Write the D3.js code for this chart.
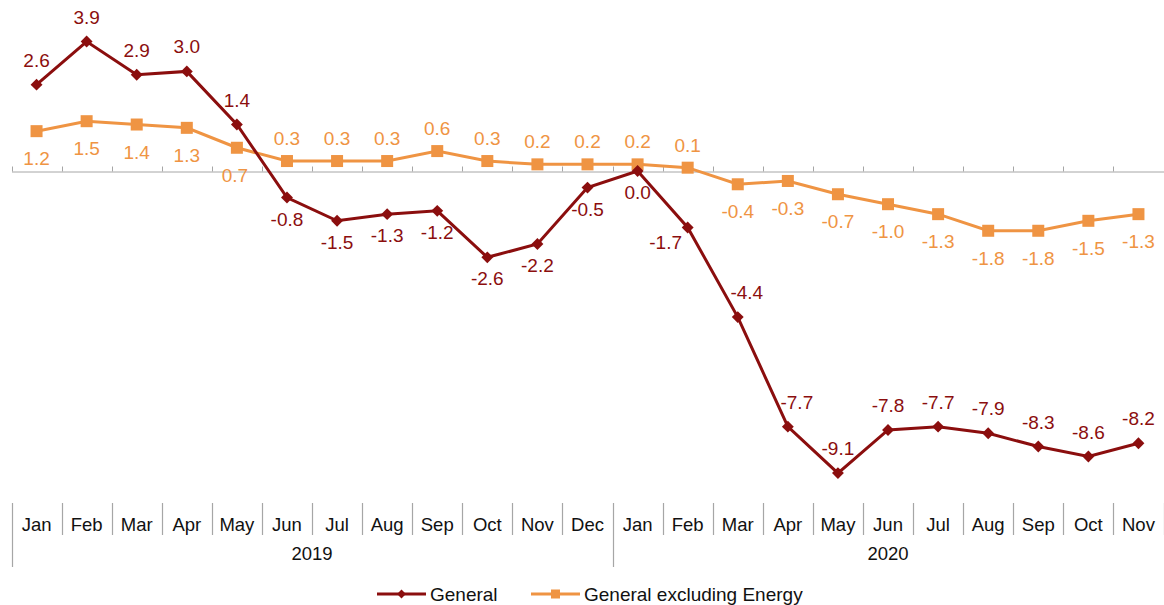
<!DOCTYPE html>
<html>
<head>
<meta charset="utf-8">
<title>General vs General excluding Energy</title>
<style>
  body { margin: 0; background: #fff; }
  text { font-family: "Liberation Sans", Arial, sans-serif; }
</style>
</head>
<body>
<svg id="chart"></svg>
<script src="https://d3js.org/d3.v7.min.js"></script>
<script>
const months = ['Jan','Feb','Mar','Apr','May','Jun','Jul','Aug','Sep','Oct','Nov','Dec',
                'Jan','Feb','Mar','Apr','May','Jun','Jul','Aug','Sep','Oct','Nov'];
const years = [{label: '2019', n: 12}, {label: '2020', n: 11}];
const general = [2.6, 3.9, 2.9, 3.0, 1.4, -0.8, -1.5, -1.3, -1.2, -2.6, -2.2, -0.5,
                 0.0, -1.7, -4.4, -7.7, -9.1, -7.8, -7.7, -7.9, -8.3, -8.6, -8.2];
const exEnergy = [1.2, 1.5, 1.4, 1.3, 0.7, 0.3, 0.3, 0.3, 0.6, 0.3, 0.2, 0.2,
                  0.2, 0.1, -0.4, -0.3, -0.7, -1.0, -1.3, -1.8, -1.8, -1.5, -1.3];

const W = 1164, H = 605;
const red = '#8b0e0e', orange = '#ef9443', grey = '#a6a6a6';

const svg = d3.select('#chart').attr('width', W).attr('height', H);

const x = d3.scaleBand().domain(d3.range(months.length)).range([11.5, 1163.5]);
const y = d3.scaleLinear().domain([-10, 5]).range([503, 5]);
const cx = i => x(i) + x.bandwidth() / 2;

// zero line with small ticks upward
const zero = svg.append('g').attr('transform', `translate(0,${Math.round(y(0)) + 0.5})`);
zero.call(d3.axisTop(x).tickValues([]).tickSizeOuter(0));
zero.select('.domain').attr('stroke', grey);
zero.selectAll('line.tk')
  .data(d3.range(months.length + 1))
  .enter().append('line')
  .attr('class', 'tk')
  .attr('x1', i => Math.round(11.5 + i * x.step()) + 0.5)
  .attr('x2', i => Math.round(11.5 + i * x.step()) + 0.5)
  .attr('y1', 0).attr('y2', -5)
  .attr('stroke', grey);

// category axis (months / years)
const axisTop = 503, monthBottom = 535, yearBottom = 567;
const ax = svg.append('g');
ax.selectAll('line.m')
  .data(d3.range(months.length + 1))
  .enter().append('line')
  .attr('x1', i => Math.round(11.5 + i * x.step()) + 0.5)
  .attr('x2', i => Math.round(11.5 + i * x.step()) + 0.5)
  .attr('y1', axisTop)
  .attr('y2', (i) => (i === 0 || i === 12) ? yearBottom : monthBottom)
  .attr('stroke', grey).attr('stroke-width', 1.2);
ax.selectAll('text.m')
  .data(months)
  .enter().append('text')
  .attr('x', (d, i) => cx(i))
  .attr('y', 531)
  .attr('text-anchor', 'middle')
  .attr('font-size', 18.5)
  .attr('fill', '#111')
  .text(d => d);
let start = 0;
years.forEach(yr => {
  const x0 = x(start), x1 = x(start + yr.n - 1) + x.bandwidth();
  ax.append('text')
    .attr('x', (x0 + x1) / 2)
    .attr('y', 560)
    .attr('text-anchor', 'middle')
    .attr('font-size', 18.5)
    .attr('fill', '#111')
    .text(yr.label);
  start += yr.n;
});

const line = d3.line().x((d, i) => cx(i)).y(d => y(d));

// orange series
svg.append('path').datum(exEnergy)
  .attr('d', line).attr('fill', 'none')
  .attr('stroke', orange).attr('stroke-width', 3);
svg.selectAll('rect.ex').data(exEnergy).enter().append('rect')
  .attr('x', (d, i) => cx(i) - 6).attr('y', d => y(d) - 6)
  .attr('width', 12).attr('height', 12).attr('fill', orange);

// red series
svg.append('path').datum(general)
  .attr('d', line).attr('fill', 'none')
  .attr('stroke', red).attr('stroke-width', 3);
const diamond = d3.symbol().type(d3.symbolDiamond2).size(90);
svg.selectAll('path.gen').data(general).enter().append('path')
  .attr('d', diamond)
  .attr('transform', (d, i) => `translate(${cx(i)},${y(d)})`)
  .attr('fill', red);

// data labels
const fmt = v => d3.format('.1f')(v).replace('\u2212', '-');
svg.selectAll('text.ex').data(exEnergy).enter().append('text')
  .attr('x', (d, i) => cx(i))
  .attr('y', (d, i) => (i < 5 || i >= 14) ? y(d) + 34 : y(d) - 16)
  .attr('dx', (d, i) => i === 4 ? -2 : 0)
  .attr('text-anchor', 'middle')
  .attr('font-size', 19)
  .attr('fill', orange)
  .text(d => fmt(d));

svg.selectAll('text.gen').data(general).enter().append('text')
  .attr('x', (d, i) => i === 13 ? cx(i) - 22 : (i === 14 || i === 15) ? cx(i) + 9 : cx(i))
  .attr('y', (d, i) => {
    if (i === 13) return y(d) + 22;
    if (i < 5 || i >= 14) return y(d) - 18;
    return y(d) + 28;
  })
  .attr('text-anchor', 'middle')
  .attr('font-size', 19)
  .attr('fill', red)
  .text(d => fmt(d));

// legend
const legend = [{name: 'General', color: red, x: 377, mark: 'diamond'},
                {name: 'General excluding Energy', color: orange, x: 531, mark: 'square'}];
const lg = svg.append('g').attr('transform', 'translate(0,594)');
legend.forEach(l => {
  lg.append('line').attr('x1', l.x).attr('x2', l.x + 49)
    .attr('stroke', l.color).attr('stroke-width', 3);
  if (l.mark === 'diamond') {
    lg.append('path').attr('d', d3.symbol().type(d3.symbolDiamond2).size(50))
      .attr('transform', `translate(${l.x + 24.5},0)`).attr('fill', l.color);
  } else {
    lg.append('rect').attr('x', l.x + 20).attr('y', -4.5)
      .attr('width', 9).attr('height', 9).attr('fill', l.color);
  }
  lg.append('text').attr('x', l.x + 53).attr('y', 7)
    .attr('font-size', 19).attr('fill', '#111').text(l.name);
});
</script>
</body>
</html>
